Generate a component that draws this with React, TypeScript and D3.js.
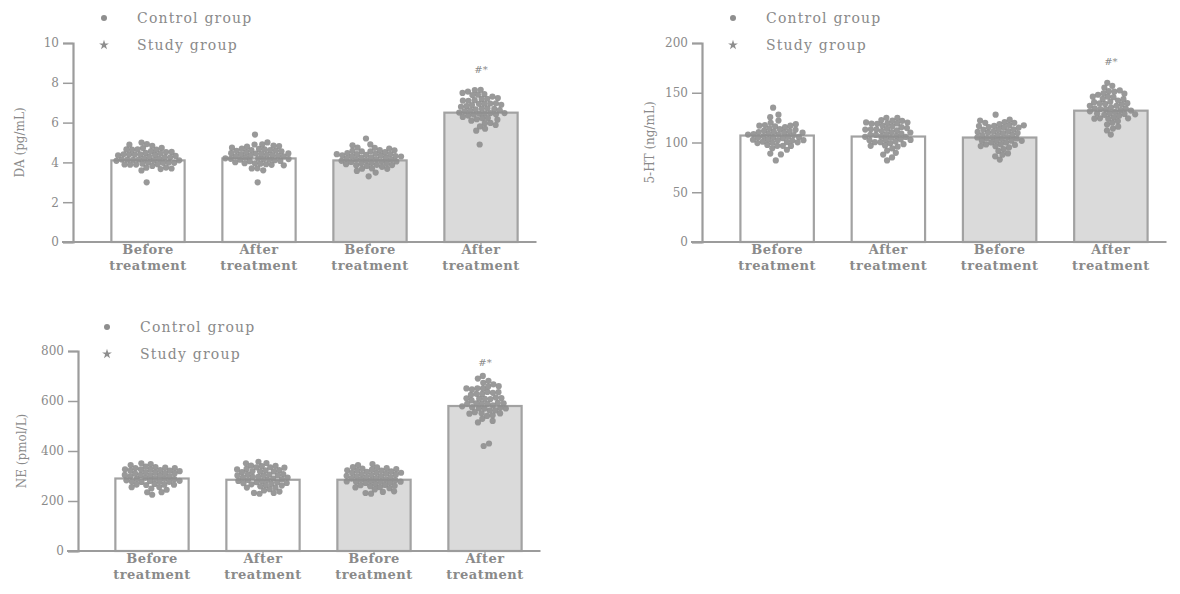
import React, { useEffect, useRef } from "react";
import * as d3 from "d3";

const categories = ["Before|treatment", "After|treatment", "Before|treatment", "After|treatment"];
const groupOf = ["control", "control", "study", "study"];

// DA (pg/mL)
const daMeans = [4.1, 4.2, 4.1, 6.5];
const daCtrlBefore = [4.1, 4.3, 4.2, 4.0, 4.5, 4.4, 3.9, 4.2, 4.6, 4.8, 5.0, 4.1, 4.3, 3.8, 4.2, 4.4, 4.0, 4.7, 4.3, 4.1, 3.6, 4.2, 4.5, 3.9, 4.3, 4.1, 4.4, 4.6, 4.0, 4.2, 3.0, 4.3, 4.8, 4.1, 4.2, 3.7, 4.4, 4.5, 4.0, 4.3, 4.2, 4.9, 4.1, 3.8, 4.3, 4.6, 4.2, 4.0, 4.4, 4.1];
const daCtrlAfter = [4.2, 4.4, 4.3, 4.1, 4.5, 4.6, 4.0, 4.3, 4.7, 4.9, 5.4, 4.2, 4.4, 3.8, 4.3, 4.5, 4.1, 4.8, 4.4, 4.2, 3.7, 4.3, 4.6, 4.0, 4.4, 4.2, 4.5, 4.7, 4.1, 4.3, 3.0, 4.4, 5.0, 4.2, 4.3, 3.9, 4.5, 4.6, 4.1, 4.4, 4.3, 4.8, 4.2, 3.6, 4.4, 4.6, 4.3, 4.1, 4.5, 4.2];
const daStudyBefore = [4.1, 4.3, 4.2, 4.0, 4.4, 4.5, 3.9, 4.2, 4.6, 4.7, 5.2, 4.1, 4.3, 3.8, 4.2, 4.4, 4.0, 4.6, 4.3, 4.1, 3.6, 4.2, 4.5, 3.9, 4.3, 4.1, 4.4, 4.8, 4.0, 4.2, 3.3, 4.3, 4.9, 4.1, 4.2, 3.7, 4.4, 4.5, 4.0, 4.3, 4.2, 4.6, 4.1, 3.5, 4.3, 4.4, 4.2, 4.0, 4.1, 3.8];
const daStudyAfter = [6.5, 6.8, 7.1, 6.3, 6.9, 7.4, 6.0, 6.6, 7.2, 7.5, 7.6, 6.4, 6.7, 5.8, 6.5, 7.0, 6.2, 7.3, 6.8, 6.4, 5.6, 6.6, 7.1, 6.1, 6.9, 6.5, 7.2, 7.5, 6.3, 6.7, 4.9, 6.8, 7.4, 6.4, 6.6, 5.9, 7.0, 7.3, 6.2, 6.8, 6.5, 7.6, 6.4, 5.7, 6.9, 7.1, 6.6, 6.1, 7.0, 6.5];

// 5-HT (ng/mL)
const htMeans = [107, 106, 105, 132];
const htCtrlBefore = [107, 110, 104, 100, 112, 115, 98, 106, 118, 120, 135, 103, 109, 95, 105, 111, 101, 116, 108, 104, 90, 106, 113, 97, 109, 103, 111, 125, 100, 106, 82, 108, 122, 104, 105, 93, 110, 114, 100, 108, 105, 128, 103, 88, 109, 117, 106, 101, 112, 104];
const htCtrlAfter = [106, 112, 116, 100, 118, 120, 96, 108, 122, 121, 123, 102, 110, 92, 105, 114, 99, 119, 111, 104, 88, 107, 117, 95, 112, 103, 115, 120, 98, 108, 82, 110, 121, 103, 106, 90, 113, 118, 99, 109, 105, 123, 102, 85, 111, 119, 107, 100, 116, 104];
const htStudyBefore = [105, 110, 114, 99, 116, 118, 95, 107, 120, 119, 128, 101, 109, 92, 104, 113, 98, 117, 110, 103, 86, 106, 115, 94, 111, 102, 114, 121, 97, 107, 83, 109, 120, 102, 105, 89, 112, 116, 98, 108, 104, 122, 101, 88, 110, 117, 106, 99, 113, 103];
const htStudyAfter = [132, 138, 144, 126, 146, 150, 122, 134, 152, 148, 160, 128, 136, 118, 131, 142, 125, 149, 137, 130, 112, 133, 145, 120, 139, 129, 143, 155, 124, 135, 108, 137, 151, 129, 132, 116, 140, 147, 125, 136, 131, 157, 128, 114, 139, 146, 133, 126, 142, 130];

// NE (pmol/L)
const neMeans = [290, 285, 285, 580];
const neCtrlBefore = [290, 305, 315, 275, 320, 325, 265, 295, 330, 322, 350, 280, 300, 250, 288, 318, 270, 328, 302, 285, 235, 296, 322, 260, 308, 282, 318, 340, 268, 298, 225, 304, 324, 283, 292, 245, 312, 326, 272, 300, 290, 345, 281, 240, 306, 321, 295, 276, 314, 286];
const neCtrlAfter = [285, 302, 318, 270, 325, 330, 258, 290, 338, 326, 355, 275, 298, 245, 284, 316, 265, 332, 300, 280, 232, 292, 322, 255, 306, 278, 320, 345, 262, 294, 230, 302, 328, 279, 288, 240, 310, 330, 268, 298, 286, 350, 276, 236, 304, 324, 291, 272, 314, 282];
const neStudyBefore = [285, 300, 310, 272, 315, 320, 262, 290, 325, 318, 340, 276, 296, 248, 284, 312, 266, 322, 298, 281, 232, 291, 316, 258, 303, 278, 312, 335, 264, 293, 230, 300, 320, 279, 288, 242, 307, 321, 268, 296, 286, 338, 277, 238, 302, 317, 290, 272, 309, 282];
const neStudyAfter = [580, 600, 625, 560, 640, 655, 545, 590, 665, 650, 700, 570, 605, 530, 578, 630, 555, 660, 610, 575, 515, 595, 645, 540, 615, 572, 635, 690, 550, 598, 420, 608, 670, 573, 585, 525, 620, 650, 556, 602, 582, 680, 571, 430, 612, 645, 592, 560, 628, 577];

const panels = [
  {
    yLabel: "DA (pg/mL)", domain: [0, 10], ticks: [0, 2, 4, 6, 8, 10],
    axisX: 73, top: 43, bottom: 242, range: [92.5, 536.5], labelX: 20, legendX: 104, legendY: 18, markY: 70,
    means: daMeans, points: [daCtrlBefore, daCtrlAfter, daStudyBefore, daStudyAfter],
  },
  {
    yLabel: "5-HT (ng/mL)", domain: [0, 200], ticks: [0, 50, 100, 150, 200],
    axisX: 702, top: 43, bottom: 242, range: [721.5, 1166.5], labelX: 650, legendX: 733, legendY: 18, markY: 62,
    means: htMeans, points: [htCtrlBefore, htCtrlAfter, htStudyBefore, htStudyAfter],
  },
  {
    yLabel: "NE (pmol/L)", domain: [0, 800], ticks: [0, 200, 400, 600, 800],
    axisX: 78, top: 351, bottom: 551, range: [96.5, 540.5], labelX: 22, legendX: 107, legendY: 327, markY: 363,
    means: neMeans, points: [neCtrlBefore, neCtrlAfter, neStudyBefore, neStudyAfter],
  },
];

const TEXT = "#8a8a8a";
const AXIS = "#9c9c9c";
const DOT = "#8e8e8e";
const FONT = "'DejaVu Serif', serif";

const App = () => {
  const svgRef = useRef(null);

  useEffect(() => {
    const svg = d3.select(svgRef.current);
    svg.selectAll("*").remove();

    panels.forEach((p) => {
      const g = svg.append("g");
      const y = d3.scaleLinear().domain(p.domain).range([p.bottom, p.top]);
      const x = d3.scalePoint().domain(d3.range(4).map(String)).range(p.range).padding(0.5);
      const bw = x.step() * 0.66;

      // bars
      p.means.forEach((m, i) => {
        const cx = x(String(i));
        g.append("rect")
          .attr("x", cx - bw / 2)
          .attr("y", y(m))
          .attr("width", bw)
          .attr("height", p.bottom - y(m))
          .attr("fill", groupOf[i] === "control" ? "#ffffff" : "#dadada")
          .attr("stroke", "#a2a2a2")
          .attr("stroke-width", 2.2);
      });

      // points (beeswarm)
      p.points.forEach((vals, i) => {
        const cx = x(String(i));
        const nodes = vals.map((v, k) => ({ x: cx + ((k % 9) - 4) * 5, y: y(v), ty: y(v) }));
        const sim = d3.forceSimulation(nodes)
          .force("x", d3.forceX(cx).strength(0.02))
          .force("y", d3.forceY((d) => d.ty).strength(0.8))
          .force("c", d3.forceCollide(2.8))
          .stop();
        for (let t = 0; t < 220; t++) sim.tick();
        nodes.forEach((n) => {
          n.x = Math.max(cx - bw / 2 + 3, Math.min(cx + bw / 2 - 3, n.x));
        });
        g.selectAll(null)
          .data(nodes)
          .enter()
          .append("circle")
          .attr("cx", (d) => d.x)
          .attr("cy", (d) => d.y)
          .attr("r", 3.1)
          .attr("fill", DOT)
          .attr("opacity", 0.9);
      });

      // y axis
      const yAxis = g.append("g")
        .attr("transform", `translate(${p.axisX},0)`)
        .call(d3.axisLeft(y).tickValues(p.ticks).tickSize(10).tickPadding(4));
      yAxis.select(".domain").attr("stroke", AXIS).attr("stroke-width", 2.2);
      yAxis.selectAll(".tick line").attr("stroke", AXIS).attr("stroke-width", 1.5);
      yAxis.selectAll(".tick text")
        .attr("fill", TEXT)
        .style("font-family", FONT)
        .style("font-size", "12px");

      // x axis
      g.append("line")
        .attr("x1", p.axisX - 11)
        .attr("x2", p.range[1])
        .attr("y1", p.bottom)
        .attr("y2", p.bottom)
        .attr("stroke", AXIS)
        .attr("stroke-width", 2.2);

      categories.forEach((c, i) => {
        const cx = x(String(i));
        g.append("line")
          .attr("x1", cx).attr("x2", cx)
          .attr("y1", p.bottom).attr("y2", p.bottom + 4)
          .attr("stroke", AXIS).attr("stroke-width", 1.2);
        const lines = c.split("|");
        lines.forEach((ln, j) => {
          g.append("text")
            .attr("x", cx)
            .attr("y", p.bottom + 12 + j * 16)
            .attr("text-anchor", "middle")
            .attr("fill", TEXT)
            .style("font-family", FONT)
            .style("font-weight", "bold")
            .style("font-size", "13px")
            .style("letter-spacing", "0.5px")
            .text(ln);
        });
      });

      // significance mark
      g.append("text")
        .attr("x", x("3"))
        .attr("y", p.markY + 3)
        .attr("text-anchor", "middle")
        .attr("fill", TEXT)
        .style("font-family", FONT)
        .style("font-style", "italic")
        .style("font-size", "10px")
        .text("#*");

      // y label
      g.append("text")
        .attr("transform", `translate(${p.labelX},${(p.top + p.bottom) / 2}) rotate(-90)`)
        .attr("text-anchor", "middle")
        .attr("dy", "0.35em")
        .attr("fill", TEXT)
        .style("font-family", FONT)
        .style("font-size", "12px")
        .text(p.yLabel);

      // legend
      g.append("circle")
        .attr("cx", p.legendX)
        .attr("cy", p.legendY)
        .attr("r", 3)
        .attr("fill", DOT);
      g.append("path")
        .attr("d", d3.symbol(d3.symbolStar, 30)())
        .attr("transform", `translate(${p.legendX},${p.legendY + 27})`)
        .attr("fill", DOT);
      ["Control group", "Study group"].forEach((t, j) => {
        g.append("text")
          .attr("x", p.legendX + 33)
          .attr("y", p.legendY + j * 27)
          .attr("dy", "0.35em")
          .attr("fill", TEXT)
          .style("font-family", FONT)
          .style("font-size", "14px")
          .style("letter-spacing", "1.2px")
          .text(t);
      });
    });
  }, []);

  return (
    <div style={{ position: "absolute", left: 0, top: 0 }}>
      <svg ref={svgRef} width={1180} height={594} style={{ display: "block", background: "#fff" }}></svg>
    </div>
  );
};

export default App;
